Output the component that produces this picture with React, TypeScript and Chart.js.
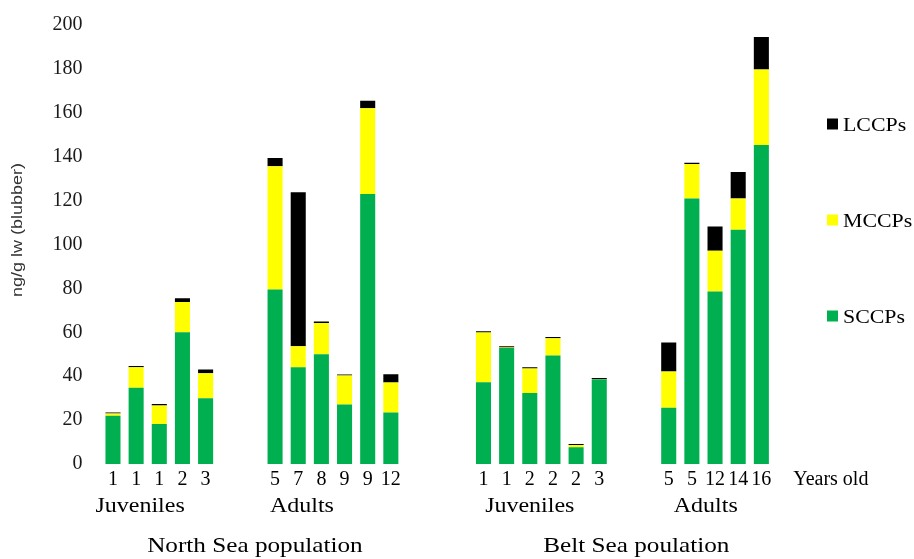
import React, { useEffect, useRef } from "react";
import { Chart, registerables } from "chart.js";

Chart.register(...registerables);

const ageLabels = [
  "1", "1", "1", "2", "3", "", "",
  "5", "7", "8", "9", "9", "12", "", "", "",
  "1", "1", "2", "2", "2", "3", "", "",
  "5", "5", "12", "14", "16", "", "", "Years old",
];

const sccp = [22.0, 34.7, 18.2, 60.0, 29.9, null, null, 79.5, 44.1, 50.0, 27.1, 123.0, 23.5, null, null, null, 37.3, 52.9, 32.4, 49.4, 7.6, 38.6, null, null, 25.6, 120.9, 78.6, 106.7, 145.3, null, null, null];
const mccp = [1.0, 9.4, 8.5, 13.8, 11.5, null, null, 56.1, 9.5, 14.2, 13.2, 39.1, 13.6, null, null, null, 22.6, 0.2, 11.1, 7.9, 1.0, 0.1, null, null, 16.5, 15.8, 18.5, 14.2, 34.4, null, null, null];
const lccp = [0.5, 0.6, 0.6, 1.7, 1.6, null, null, 3.8, 70.2, 0.7, 0.5, 3.4, 3.8, null, null, null, 0.6, 0.5, 0.6, 0.6, 0.5, 0.5, null, null, 13.2, 0.6, 11.1, 12.1, 14.8, null, null, null];

const seriesNames = ["SCCPs", "MCCPs", "LCCPs"];
const seriesColors = ["#00B050", "#FFFF00", "#000000"];

// group labels: text + (fractional) category index where they are centred
const groupLabels = [
  { text: "Juveniles", at: 1.17 },
  { text: "Adults", at: 8.16 },
  { text: "Juveniles", at: 18.0 },
  { text: "Adults", at: 25.6 },
];
const populationLabels = [
  { text: "North Sea population", at: 6.13 },
  { text: "Belt Sea poulation", at: 22.6 },
];

const yTitle = "ng/g lw (blubber)";
const SERIF = '"Liberation Serif", "Times New Roman", serif';
const SANS = '"Liberation Sans", Arial, sans-serif';

function stretchedText(ctx: CanvasRenderingContext2D, text: string, x: number, y: number, font: string, sx: number, align: CanvasTextAlign) {
  ctx.save();
  ctx.translate(x, y);
  ctx.scale(sx, 1);
  ctx.font = font;
  ctx.fillStyle = "#000";
  ctx.textAlign = align;
  ctx.textBaseline = "alphabetic";
  ctx.fillText(text, 0, 0);
  ctx.restore();
}

const annotationsPlugin = {
  id: "annotations",
  afterDraw(chart: any) {
    const ctx: CanvasRenderingContext2D = chart.ctx;
    const xs = chart.scales.x;
    const px = (v: number) => xs.getPixelForValue(v);
    groupLabels.forEach((g) => stretchedText(ctx, g.text, px(g.at), 512, `20px ${SERIF}`, 1.2, "center"));
    populationLabels.forEach((g) => stretchedText(ctx, g.text, px(g.at), 552, `21px ${SERIF}`, 1.2, "center"));

    // legend (top to bottom: reverse of stack order)
    const order = [2, 1, 0];
    const ys = [124, 220, 316];
    order.forEach((si, k) => {
      ctx.fillStyle = seriesColors[si];
      ctx.fillRect(827, ys[k] - 5.5, 11, 11);
      stretchedText(ctx, seriesNames[si], 843, ys[k] + 6.5, `19px ${SERIF}`, 1.15, "left");
    });

    // y title
    ctx.save();
    ctx.translate(18, 230);
    ctx.rotate(-Math.PI / 2);
    ctx.scale(1.2, 1);
    ctx.font = `15px ${SANS}`;
    ctx.fillStyle = "#333";
    ctx.textAlign = "center";
    ctx.textBaseline = "middle";
    ctx.fillText(yTitle, 0, 0);
    ctx.restore();
  },
};

export default function App() {
  const ref = useRef<HTMLCanvasElement | null>(null);
  useEffect(() => {
    document.body.style.margin = "0";
    const datasets = [sccp, mccp, lccp].map((d, i) => ({
      label: seriesNames[i],
      data: d,
      backgroundColor: seriesColors[i],
      borderWidth: 0,
      categoryPercentage: 1,
      barPercentage: 0.65,
    }));
    const chart = new Chart(ref.current as HTMLCanvasElement, {
      type: "bar",
      data: { labels: ageLabels, datasets },
      options: {
        animation: false,
        responsive: false,
        maintainAspectRatio: false,
        layout: { padding: { left: 0, right: 71.6, top: 25, bottom: 0 } },
        plugins: { legend: { display: false }, tooltip: { enabled: false } },
        scales: {
          x: {
            stacked: true,
            grid: { display: false, drawTicks: false },
            border: { display: false },
            afterFit: (s: any) => { s.height = 95; s.paddingLeft = 0; s.paddingRight = 0; },
            ticks: {
              autoSkip: false,
              maxRotation: 0,
              minRotation: 0,
              padding: 4,
              color: "#000",
              font: { family: SERIF, size: 20 },
            },
          },
          y: {
            stacked: true,
            min: 0,
            max: 200,
            grid: { display: false, drawTicks: false },
            border: { display: false },
            afterFit: (s: any) => { s.width = 101.4; s.paddingTop = 0; s.paddingBottom = 0; },
            ticks: {
              stepSize: 20,
              padding: 19,
              color: "#1a1a1a",
              font: { family: SERIF, size: 20 },
            },
          },
        },
      },
      plugins: [annotationsPlugin],
    });
    return () => chart.destroy();
  }, []);
  return (
    <div style={{ position: "fixed", left: 0, top: 0, width: 914, height: 559, background: "#fff" }}>
      <canvas ref={ref} width={914} height={559} />
    </div>
  );
}
